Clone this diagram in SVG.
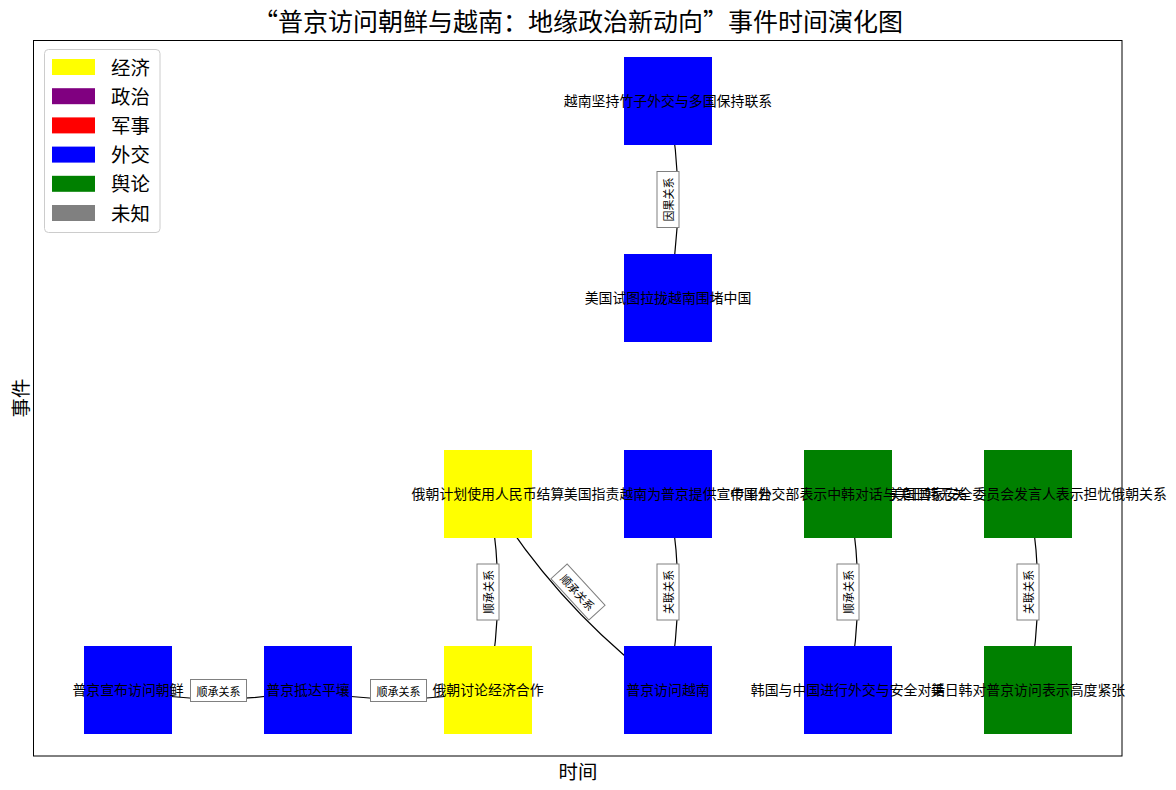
<svg xmlns="http://www.w3.org/2000/svg" width="1176" height="790" viewBox="0 0 1176 790">
<style>
text{font-family:"Noto Sans CJK SC","Liberation Sans",sans-serif;fill:#000}
.nt{font-size:13.9px;text-anchor:middle;dominant-baseline:central}
.et{font-size:11px;text-anchor:middle;dominant-baseline:central}
.lb{fill:#fff;stroke:#808080;stroke-width:1}
.edge{fill:none;stroke:#000;stroke-width:1.2}
.eco{fill:#ffff00}.dip{fill:#0000ff}.pub{fill:#008000}
.lg{font-size:19.4px;dominant-baseline:central}
</style>
<rect width="1176" height="790" fill="#fff"/>
<text x="578" y="19.5" style="font-size:25px;text-anchor:middle;dominant-baseline:central">“普京访问朝鲜与越南：地缘政治新动向”事件时间演化图</text>
<rect x="33.5" y="40.5" width="1088.5" height="715.5" fill="none" stroke="#000" stroke-width="1"/>
<text x="578" y="770" style="font-size:19.4px;text-anchor:middle;dominant-baseline:central">时间</text>
<text transform="translate(19,398) rotate(-90)" style="font-size:19.4px;text-anchor:middle;dominant-baseline:central">事件</text>
<g id="connectors">
<path class="edge" d="M128,690 Q218,708 308,690"/>
<path class="edge" d="M308,690 Q398,708 488,690"/>
<path class="edge" d="M488,690 Q507.6,592 488,494"/>
<path class="edge" d="M488,494 Q558.4,610 668,690"/>
<path class="edge" d="M668,690 Q687.6,592 668,494"/>
<path class="edge" d="M848,690 Q867.6,592 848,494"/>
<path class="edge" d="M1028,690 Q1047.6,592 1028,494"/>
<path class="edge" d="M668,298 Q687.7,199.5 668,101"/>
</g>
<g id="n1"><rect class="dip" x="84" y="646" width="88" height="88"/><text class="nt" x="128" y="689">普京宣布访问朝鲜</text></g>
<g id="n2"><rect class="dip" x="264" y="646" width="88" height="88"/><text class="nt" x="308" y="689">普京抵达平壤</text></g>
<g id="n3"><rect class="eco" x="444" y="646" width="88" height="88"/><text class="nt" x="488" y="689">俄朝讨论经济合作</text></g>
<g id="n4"><rect class="dip" x="624" y="646" width="88" height="88"/><text class="nt" x="668" y="689">普京访问越南</text></g>
<g id="n5"><rect class="dip" x="804" y="646" width="88" height="88"/><text class="nt" x="848" y="689">韩国与中国进行外交与安全对话</text></g>
<g id="n6"><rect class="pub" x="984" y="646" width="88" height="88"/><text class="nt" x="1028" y="689">美日韩对普京访问表示高度紧张</text></g>
<g id="n7"><rect class="eco" x="444" y="450" width="88" height="88"/><text class="nt" x="488" y="493">俄朝计划使用人民币结算</text></g>
<g id="n8"><rect class="dip" x="624" y="450" width="88" height="88"/><text class="nt" x="668" y="493">美国指责越南为普京提供宣传平台</text></g>
<g id="n9"><rect class="pub" x="804" y="450" width="88" height="88"/><text class="nt" x="848" y="493">中国外交部表示中韩对话与美日韩无关</text></g>
<g id="n10"><rect class="pub" x="984" y="450" width="88" height="88"/><text class="nt" x="1028" y="493">美国国家安全委员会发言人表示担忧俄朝关系</text></g>
<g id="n11"><rect class="dip" x="624" y="254" width="88" height="88"/><text class="nt" x="668" y="297">美国试图拉拢越南围堵中国</text></g>
<g id="n12"><rect class="dip" x="624" y="57" width="88" height="88"/><text class="nt" x="668" y="100">越南坚持竹子外交与多国保持联系</text></g>
<g id="edge-labels">
<g transform="translate(218.5,690.5)"><rect class="lb" x="-28" y="-11" width="56" height="22"/><text class="et" x="0" y="0">顺承关系</text></g>
<g transform="translate(398.5,690.5)"><rect class="lb" x="-28" y="-11" width="56" height="22"/><text class="et" x="0" y="0">顺承关系</text></g>
<g transform="translate(488,592) rotate(-90)"><rect class="lb" x="-28" y="-11" width="56" height="22"/><text class="et" x="0" y="0">顺承关系</text></g>
<g transform="translate(578,592) rotate(47.4)"><rect class="lb" x="-28" y="-11" width="56" height="22"/><text class="et" x="0" y="0">顺承关系</text></g>
<g transform="translate(668,592) rotate(-90)"><rect class="lb" x="-28" y="-11" width="56" height="22"/><text class="et" x="0" y="0">关联关系</text></g>
<g transform="translate(848,592) rotate(-90)"><rect class="lb" x="-28" y="-11" width="56" height="22"/><text class="et" x="0" y="0">顺承关系</text></g>
<g transform="translate(1028,592) rotate(-90)"><rect class="lb" x="-28" y="-11" width="56" height="22"/><text class="et" x="0" y="0">关联关系</text></g>
<g transform="translate(668,199.5) rotate(-90)"><rect class="lb" x="-28" y="-11" width="56" height="22"/><text class="et" x="0" y="0">因果关系</text></g>
</g>
<g id="legend">
<rect x="44.5" y="49.5" width="115.5" height="183" rx="4" fill="#fff" fill-opacity="0.8" stroke="#cccccc"/>
<rect x="52" y="59" width="43" height="16" fill="#ffff00"/><text class="lg" x="111" y="66">经济</text>
<rect x="52" y="88.2" width="43" height="16" fill="#800080"/><text class="lg" x="111" y="95.2">政治</text>
<rect x="52" y="117.4" width="43" height="16" fill="#ff0000"/><text class="lg" x="111" y="124.4">军事</text>
<rect x="52" y="146.6" width="43" height="16" fill="#0000ff"/><text class="lg" x="111" y="153.6">外交</text>
<rect x="52" y="175.8" width="43" height="16" fill="#008000"/><text class="lg" x="111" y="182.8">舆论</text>
<rect x="52" y="205" width="43" height="16" fill="#808080"/><text class="lg" x="111" y="212">未知</text>
</g>
</svg>
